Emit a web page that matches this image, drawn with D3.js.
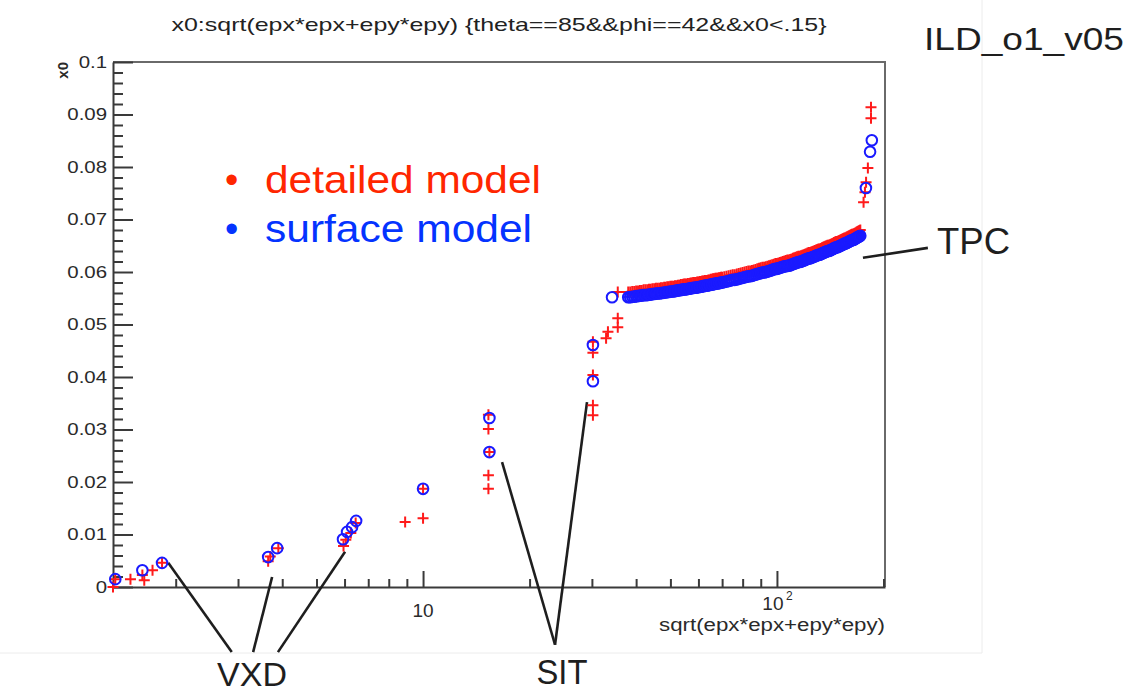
<!DOCTYPE html>
<html>
<head>
<meta charset="utf-8">
<script src="https://cdn.jsdelivr.net/npm/d3@7"></script>
<style>
  body { margin: 0; background: #fff; }
  svg { display: block; }
  text { font-family: "Liberation Sans", Arial, Helvetica, sans-serif; }
</style>
</head>
<body>
<svg id="chart" width="1135" height="694"></svg>
<script>
// ---- detailed model (red +): isolated hits, radius vs. accumulated x0 ----
const detailedR = [
  1.33, 1.35, 1.49, 1.61, 1.63, 1.72, 1.83,
  3.65, 3.70, 3.90,
  5.96, 6.05, 6.25, 6.45,
  8.9, 10.0, 10.0,
  15.3, 15.3, 15.4, 15.3, 15.3,
  30.2, 30.2, 30.2, 30.2, 30.2, 32.9, 33.3, 35.5, 35.5, 35.5,
  184.4, 184.4, 180.7, 178.6, 177.3, 175.7
];
const detailedX0 = [
  0.0000, 0.0015, 0.0015, 0.0023, 0.0013, 0.0032, 0.0046,
  0.0049, 0.0058, 0.0074,
  0.0078, 0.0090, 0.0103, 0.0122,
  0.0124, 0.0131, 0.0187,
  0.0328, 0.0301, 0.0257, 0.0213, 0.0187,
  0.0404, 0.0346, 0.0327, 0.0467, 0.0446, 0.0474, 0.0486, 0.0495, 0.0512, 0.0562,
  0.0914, 0.0893, 0.0798, 0.0771, 0.0752, 0.0733
];

// ---- surface model (blue o): isolated hits ----
const surfaceR = [
  1.35, 1.61, 1.83, 3.65, 3.87, 5.94, 6.10, 6.30, 6.47,
  10.0, 15.4, 15.4, 30.2, 30.2, 34.2,
  185.4, 183.3, 178.4
];
const surfaceX0 = [
  0.0015, 0.0032, 0.0046, 0.0057, 0.0074, 0.0091, 0.0105, 0.0114, 0.0126,
  0.0187, 0.0322, 0.0257, 0.0392, 0.0461, 0.0552,
  0.0851, 0.0829, 0.0760
];

// ---- TPC pad-row hits, both models ----
const tpcR = [
  38, 39, 40, 41, 42, 43, 44, 45, 46, 47, 48, 49, 50, 51, 52, 53, 54, 55, 56, 57,
  58, 59, 60, 61, 62, 63, 64, 65, 66, 67, 68, 69, 70, 71, 72, 73, 74, 75, 76, 77,
  78, 79, 80, 81, 82, 83, 84, 85, 86, 87, 88, 89, 90, 91, 92, 93, 94, 95, 96, 97,
  98, 99, 100, 101, 102, 103, 104, 105, 106, 107, 108, 109, 110, 111, 112, 113, 114, 115, 116, 117,
  118, 119, 120, 121, 122, 123, 124, 125, 126, 127, 128, 129, 130, 131, 132, 133, 134, 135, 136, 137,
  138, 139, 140, 141, 142, 143, 144, 145, 146, 147, 148, 149, 150, 151, 152, 153, 154, 155, 156, 157,
  158, 159, 160, 161, 162, 163, 164, 165, 166, 167, 168, 169, 170, 171, 172
];
const tpcDetailedX0 = [
  0.0562, 0.0563, 0.0564, 0.0565, 0.0566, 0.0566, 0.0567, 0.0568, 0.0569, 0.0570,
  0.0571, 0.0572, 0.0573, 0.0573, 0.0574, 0.0575, 0.0576, 0.0577, 0.0578, 0.0579,
  0.0580, 0.0580, 0.0581, 0.0582, 0.0583, 0.0584, 0.0585, 0.0586, 0.0587, 0.0588,
  0.0588, 0.0589, 0.0590, 0.0591, 0.0592, 0.0593, 0.0594, 0.0595, 0.0595, 0.0596,
  0.0597, 0.0598, 0.0599, 0.0600, 0.0601, 0.0602, 0.0602, 0.0603, 0.0604, 0.0605,
  0.0606, 0.0607, 0.0608, 0.0609, 0.0609, 0.0610, 0.0611, 0.0612, 0.0613, 0.0614,
  0.0615, 0.0616, 0.0616, 0.0617, 0.0618, 0.0619, 0.0620, 0.0621, 0.0622, 0.0623,
  0.0623, 0.0624, 0.0625, 0.0626, 0.0627, 0.0628, 0.0629, 0.0630, 0.0630, 0.0631,
  0.0632, 0.0633, 0.0634, 0.0635, 0.0636, 0.0637, 0.0637, 0.0638, 0.0639, 0.0640,
  0.0641, 0.0642, 0.0643, 0.0644, 0.0644, 0.0645, 0.0646, 0.0647, 0.0648, 0.0649,
  0.0650, 0.0651, 0.0651, 0.0652, 0.0653, 0.0654, 0.0655, 0.0656, 0.0657, 0.0658,
  0.0658, 0.0659, 0.0660, 0.0661, 0.0662, 0.0663, 0.0664, 0.0665, 0.0665, 0.0666,
  0.0667, 0.0668, 0.0669, 0.0670, 0.0671, 0.0672, 0.0672, 0.0673, 0.0674, 0.0675,
  0.0676, 0.0677, 0.0678, 0.0679, 0.0680
];
const tpcSurfaceX0 = [
  0.0552, 0.0553, 0.0554, 0.0555, 0.0556, 0.0556, 0.0557, 0.0558, 0.0559, 0.0560,
  0.0561, 0.0562, 0.0563, 0.0563, 0.0564, 0.0565, 0.0566, 0.0567, 0.0568, 0.0569,
  0.0570, 0.0570, 0.0571, 0.0572, 0.0573, 0.0574, 0.0575, 0.0576, 0.0577, 0.0578,
  0.0578, 0.0579, 0.0580, 0.0581, 0.0582, 0.0583, 0.0584, 0.0585, 0.0585, 0.0586,
  0.0587, 0.0588, 0.0589, 0.0590, 0.0591, 0.0592, 0.0592, 0.0593, 0.0594, 0.0595,
  0.0596, 0.0597, 0.0598, 0.0599, 0.0599, 0.0600, 0.0601, 0.0602, 0.0603, 0.0604,
  0.0605, 0.0606, 0.0606, 0.0607, 0.0608, 0.0609, 0.0610, 0.0611, 0.0611, 0.0612,
  0.0612, 0.0613, 0.0614, 0.0615, 0.0616, 0.0617, 0.0618, 0.0619, 0.0619, 0.0620,
  0.0621, 0.0622, 0.0623, 0.0624, 0.0625, 0.0626, 0.0626, 0.0627, 0.0628, 0.0629,
  0.0630, 0.0631, 0.0632, 0.0633, 0.0633, 0.0634, 0.0635, 0.0636, 0.0637, 0.0638,
  0.0639, 0.0640, 0.0640, 0.0641, 0.0642, 0.0643, 0.0644, 0.0645, 0.0646, 0.0647,
  0.0647, 0.0648, 0.0649, 0.0650, 0.0651, 0.0652, 0.0653, 0.0654, 0.0654, 0.0655,
  0.0656, 0.0657, 0.0658, 0.0659, 0.0660, 0.0661, 0.0661, 0.0662, 0.0663, 0.0664,
  0.0665, 0.0666, 0.0667, 0.0668, 0.0669
];
// inner TPC rows lying between the whole-centimetre rows above
const tpcInnerR = [
  38.5, 39.5, 40.5, 41.5, 42.5, 43.5, 44.5, 45.5, 46.5, 47.5, 48.5, 49.5, 50.5, 51.5, 52.5, 53.5,
  54.5, 55.5, 56.5, 57.5, 58.5, 59.5, 60.5, 61.5, 62.5, 63.5, 64.5, 65.5, 66.5, 67.5, 68.5, 69.5
];
const tpcInnerDetailedX0 = [
  0.0562, 0.0563, 0.0564, 0.0565, 0.0566, 0.0567, 0.0568, 0.0569, 0.0569, 0.0570, 0.0571, 0.0572,
  0.0573, 0.0574, 0.0575, 0.0576, 0.0577, 0.0577, 0.0578, 0.0579, 0.0580, 0.0581, 0.0582, 0.0583,
  0.0584, 0.0584, 0.0585, 0.0586, 0.0587, 0.0588, 0.0589, 0.0590
];
const tpcInnerSurfaceX0 = [
  0.0552, 0.0553, 0.0554, 0.0555, 0.0556, 0.0557, 0.0558, 0.0559, 0.0559, 0.0560, 0.0561, 0.0562,
  0.0563, 0.0564, 0.0565, 0.0566, 0.0567, 0.0567, 0.0568, 0.0569, 0.0570, 0.0571, 0.0572, 0.0573,
  0.0574, 0.0574, 0.0575, 0.0576, 0.0577, 0.0578, 0.0579, 0.0580
];

// ---- axis ticks ----
const yTickValues = [0, 0.01, 0.02, 0.03, 0.04, 0.05, 0.06, 0.07, 0.08, 0.09, 0.1];
const yTickLabels = ["0", "0.01", "0.02", "0.03", "0.04", "0.05", "0.06", "0.07", "0.08", "0.09", "0.1"];
const xMajorTicks = [10, 100];
const xMajorBase = ["10", "10"];
const xMajorExp = ["", "2"];
const xMinorTicks = [2, 3, 4, 5, 6, 7, 8, 9, 20, 30, 40, 50, 60, 70, 80, 90, 200];

// ---- detector annotations: lines from hits down to the sub-detector name ----
const vxdLines = [
  [[1.905, 0.0046], [2.88, -0.0124]],
  [[3.745, 0.0019], [3.31, -0.0124]],
  [[6.02, 0.0067], [3.89, -0.0124]]
];
const sitLines = [
  [[16.72, 0.0238], [23.6, -0.0110]],
  [[29.06, 0.0352], [23.6, -0.0110]]
];
const tpcLines = [
  [[175, 0.0627], [267, 0.0646]]
];

const svg = d3.select("#chart");

const x = d3.scaleLog().domain([1.33, 202]).range([113, 885]);
const y = d3.scaleLinear().domain([0, 0.1]).range([587, 62]);

// faint canvas border of the plot area
svg.append("line").attr("x1", 982).attr("x2", 982).attr("y1", 0).attr("y2", 653)
  .attr("stroke", "#ececec").attr("stroke-width", 1);
svg.append("line").attr("x1", 0).attr("x2", 982).attr("y1", 653).attr("y2", 653)
  .attr("stroke", "#ececec").attr("stroke-width", 1);

// frame (top and right)
svg.append("path")
  .attr("d", `M${x.range()[0]},${y(0.1)}H${x.range()[1]}V${y(0)}`)
  .attr("fill", "none").attr("stroke", "#6a6a6a").attr("stroke-width", 2);

// y axis: major + minor ticks pointing inward
const yMinor = d3.range(0, 0.1001, 0.002).filter(v => Math.abs(v * 100 - Math.round(v * 100)) > 1e-6);
const yAxis = svg.append("g").attr("transform", `translate(${x.range()[0]},0)`)
  .call(d3.axisLeft(y).tickValues(yTickValues).tickSizeInner(-20).tickSizeOuter(0)
    .tickPadding(6).tickFormat((d, i) => yTickLabels[i]));
svg.append("g").attr("transform", `translate(${x.range()[0]},0)`)
  .call(d3.axisLeft(y).tickValues(yMinor).tickSizeInner(-10).tickSizeOuter(0).tickFormat(""))
  .select(".domain").remove();
yAxis.selectAll("text").attr("font-size", 17).attr("fill", "#2a2a2a")
  .style("font-family", '"Liberation Sans", Arial, sans-serif')
  .each(function () {
    const w = this.getComputedTextLength();
    d3.select(this).attr("textLength", w * 1.2).attr("lengthAdjust", "spacingAndGlyphs");
  });

// x axis (log): major + minor ticks pointing inward
svg.append("g").attr("transform", `translate(0,${y(0)})`)
  .call(d3.axisBottom(x).tickValues(xMajorTicks).tickSizeInner(-16).tickSizeOuter(0).tickFormat(""));
svg.append("g").attr("transform", `translate(0,${y(0)})`)
  .call(d3.axisBottom(x).tickValues(xMinorTicks).tickSizeInner(-8).tickSizeOuter(0).tickFormat(""))
  .select(".domain").remove();

svg.selectAll(".domain").attr("stroke", "#3a3a3a").attr("stroke-width", 2);
svg.selectAll(".tick line").attr("stroke", "#3a3a3a").attr("stroke-width", 2);

// x tick labels with exponent
xMajorTicks.forEach((v, i) => {
  const hasExp = !!xMajorExp[i];
  svg.append("text")
    .attr("x", x(v) - (hasExp ? 4 : 0)).attr("y", hasExp ? 610 : 617)
    .attr("text-anchor", "middle").attr("font-size", 19).attr("fill", "#2a2a2a")
    .text(xMajorBase[i]);
  if (hasExp) {
    svg.append("text")
      .attr("x", x(v) + 9).attr("y", 600)
      .attr("font-size", 12).attr("fill", "#2a2a2a")
      .text(xMajorExp[i]);
  }
});

// axis titles
svg.append("text").attr("x", 885).attr("y", 631).attr("text-anchor", "end")
  .attr("font-size", 18).attr("fill", "#2a2a2a")
  .attr("textLength", 226).attr("lengthAdjust", "spacingAndGlyphs")
  .text("sqrt(epx*epx+epy*epy)");
svg.append("text").attr("transform", "translate(68,62) rotate(-90)")
  .attr("text-anchor", "end").attr("font-size", 15).attr("font-weight", "bold")
  .attr("fill", "#2a2a2a").text("x0");

// title
svg.append("text").attr("x", 499).attr("y", 31).attr("text-anchor", "middle")
  .attr("font-size", 19).attr("fill", "#222")
  .attr("textLength", 655).attr("lengthAdjust", "spacingAndGlyphs")
  .text("x0:sqrt(epx*epx+epy*epy) {theta==85&&phi==42&&x0<.15}");

// annotation lines
const lineGen = d3.line().x(d => x(d[0])).y(d => y(d[1]));
[...vxdLines, ...sitLines, ...tpcLines].forEach(seg => {
  svg.append("path").attr("d", lineGen(seg))
    .attr("fill", "none").attr("stroke", "#1e1e1e").attr("stroke-width", 2.6);
});

// markers: detailed model first, surface model on top
const plusPath = "M-5.5,0H5.5M0,-5.5V5.5";
const redPts = detailedR.map((r, i) => [r, detailedX0[i]])
  .concat(tpcR.map((r, i) => [r, tpcDetailedX0[i]]))
  .concat(tpcInnerR.map((r, i) => [r, tpcInnerDetailedX0[i]]));
const bluePts = tpcR.map((r, i) => [r, tpcSurfaceX0[i]])
  .concat(tpcInnerR.map((r, i) => [r, tpcInnerSurfaceX0[i]]))
  .concat(surfaceR.map((r, i) => [r, surfaceX0[i]]));

svg.append("g").selectAll("path").data(redPts).join("path")
  .attr("d", plusPath)
  .attr("transform", d => `translate(${x(d[0])},${y(d[1])})`)
  .attr("fill", "none").attr("stroke", "#ff1a1a").attr("stroke-width", 2);

svg.append("g").selectAll("circle").data(bluePts).join("circle")
  .attr("cx", d => x(d[0])).attr("cy", d => y(d[1])).attr("r", 5.3)
  .attr("fill", "none").attr("stroke", "#1a1aff").attr("stroke-width", 2);

// legend
const legend = [
  { label: "detailed model", color: "#ff2600", y: 193, len: 276 },
  { label: "surface model", color: "#0433ff", y: 242, len: 267 }
];
legend.forEach(l => {
  svg.append("text").attr("x", 225).attr("y", l.y).attr("font-size", 38)
    .attr("fill", l.color).text("\u2022");
  svg.append("text").attr("x", 265).attr("y", l.y).attr("font-size", 38)
    .attr("fill", l.color).attr("textLength", l.len).attr("lengthAdjust", "spacingAndGlyphs")
    .text(l.label);
});

// detector names and geometry tag
svg.append("text").attr("x", 252).attr("y", 686).attr("text-anchor", "middle")
  .attr("font-size", 34).attr("fill", "#1e1e1e").text("VXD");
svg.append("text").attr("x", 562).attr("y", 684).attr("text-anchor", "middle")
  .attr("font-size", 35).attr("fill", "#1e1e1e")
  .attr("textLength", 51).attr("lengthAdjust", "spacingAndGlyphs").text("SIT");
svg.append("text").attr("x", 937).attr("y", 254)
  .attr("font-size", 36).attr("fill", "#1e1e1e")
  .attr("textLength", 73).attr("lengthAdjust", "spacingAndGlyphs").text("TPC");
svg.append("text").attr("x", 924).attr("y", 50)
  .attr("font-size", 31).attr("fill", "#1e1e1e")
  .attr("textLength", 200).attr("lengthAdjust", "spacingAndGlyphs").text("ILD_o1_v05");
</script>
</body>
</html>
